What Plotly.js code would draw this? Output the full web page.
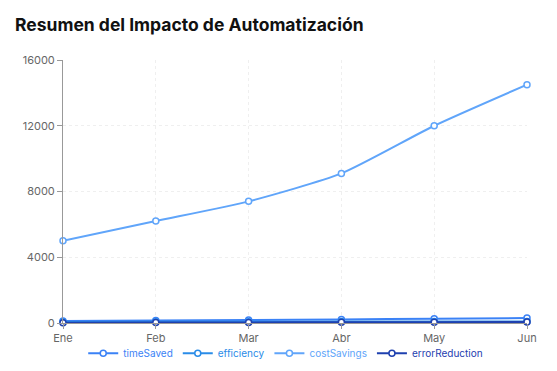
<!DOCTYPE html>
<html>
<head>
<meta charset="utf-8">
<script src="https://cdn.plot.ly/plotly-3.0.1.min.js"></script>
<style>html,body{margin:0;padding:0;background:#fff;}#chart{width:557px;height:371px;}</style>
</head>
<body>
<div id="chart"></div>
<script>
const months = ["Ene", "Feb", "Mar", "Abr", "May", "Jun"];
const timeSaved = [120, 150, 180, 220, 260, 300];
const efficiency = [65, 72, 78, 85, 90, 94];
const costSavings = [5000, 6200, 7400, 9100, 12000, 14500];
const errorReduction = [20, 28, 35, 42, 48, 55];
const yTicks = [0, 4000, 8000, 12000, 16000];

const seriesNames = ["timeSaved", "efficiency", "costSavings", "errorReduction"];
const seriesData = [timeSaved, efficiency, costSavings, errorReduction];
const seriesColors = ["#3b82f6", "#2a8ce8", "#60a5fa", "#1e40af"];

const traces = seriesNames.map((n, i) => ({
  x: months,
  y: seriesData[i],
  name: '<span style="color:' + seriesColors[i] + '">' + n + '</span>',
  type: 'scatter',
  mode: 'lines+markers',
  line: {color: seriesColors[i], width: 2, shape: 'spline', smoothing: 0.6},
  marker: {symbol: 'circle', size: 6, color: '#ffffff', line: {color: seriesColors[i], width: 1.5}},
  cliponaxis: false
}));

const layout = {
  width: 557, height: 371,
  margin: {l: 63, r: 30, t: 60, b: 48, autoexpand: false},
  paper_bgcolor: '#ffffff', plot_bgcolor: '#ffffff',
  font: {family: 'Inter, "Open Sans", sans-serif', size: 11, color: '#666666'},
  title: {text: '<b>Resumen del Impacto de Automatización</b>', x: 0.027, xanchor: 'left', yref: 'container', y: 0.932, yanchor: 'middle', font: {size: 17.5, color: '#111111', family: 'Inter, "Open Sans", sans-serif'}},
  showlegend: true,
  legend: {orientation: 'h', x: 0.48, xanchor: 'center', yref: 'container', y: 0.048, yanchor: 'middle', bgcolor: 'rgba(0,0,0,0)', font: {size: 10}, itemwidth: 30, tracegroupgap: 0},
  xaxis: {
    type: 'category', range: [0, 5], showgrid: true, gridcolor: '#efefef', griddash: '3px,3px',
    showline: true, linecolor: '#999999', linewidth: 1, ticks: 'outside', ticklen: 5, tickcolor: '#999999',
    zeroline: false, tickfont: {size: 11, color: '#666666'}, fixedrange: true, automargin: false
  },
  yaxis: {
    range: [0, 16000], tickvals: yTicks, ticktext: yTicks.map(String), showgrid: true, gridcolor: '#efefef', griddash: '3px,3px',
    showline: true, linecolor: '#999999', linewidth: 1, ticks: 'outside', ticklen: 5, tickcolor: '#999999',
    zeroline: false, tickfont: {size: 11, color: '#666666'}, fixedrange: true, automargin: false
  }
};

Plotly.newPlot('chart', traces, layout, {displayModeBar: false, staticPlot: true});
</script>
</body>
</html>
